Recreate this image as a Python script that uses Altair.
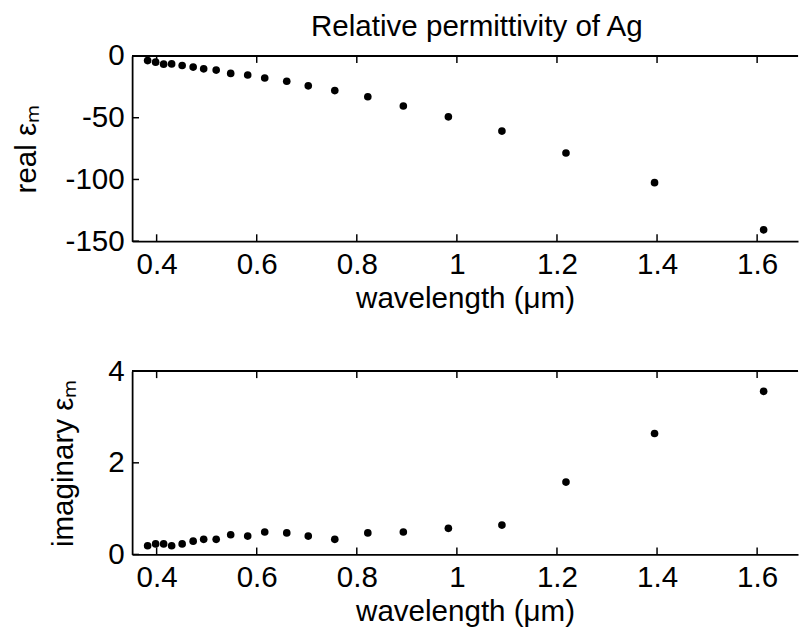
import altair as alt
import pandas as pd

# Data (wavelength in µm)
wavelength = [0.382, 0.398, 0.414, 0.430, 0.451, 0.473, 0.494, 0.519, 0.548, 0.582, 0.616,
              0.660, 0.703, 0.756, 0.822, 0.893, 0.983, 1.090, 1.218, 1.395, 1.613]
eps_real = [-3.7, -5.0, -6.6, -6.4, -7.7, -9.0, -10.4, -11.4, -14.1, -15.4, -17.8,
            -20.5, -24.2, -28.0, -33.0, -40.5, -49.3, -60.8, -78.6, -102.6, -140.8]
eps_imag = [0.19, 0.23, 0.23, 0.19, 0.23, 0.29, 0.33, 0.33, 0.43, 0.40, 0.49,
            0.47, 0.40, 0.33, 0.47, 0.49, 0.57, 0.64, 1.58, 2.64, 3.56]

x_ticks = [0.4, 0.6, 0.8, 1.0, 1.2, 1.4, 1.6]
real_ticks = [0, -50, -100, -150]
imag_ticks = [0, 2, 4]

X_DOMAIN = [0.351, 1.6817]
W = 676
FONT = "Liberation Sans"
FS = 30
TICK = 7

df = pd.DataFrame({"wl": wavelength, "re": eps_real, "im": eps_imag})
xt = pd.DataFrame({"t": x_ticks})

LABEL_EXPR = "datum.value < 0 ? '-' + format(-datum.value, '~g') : format(datum.value, '~g')"


def panel(col, ytitle, ydomain, yticks, H, title_pad):
    xscale = alt.Scale(domain=X_DOMAIN, nice=False, zero=False)
    yscale = alt.Scale(domain=ydomain, nice=False, zero=False)
    xaxis = alt.Axis(values=x_ticks, title="wavelength (μm)", labelExpr=LABEL_EXPR,
                     grid=False, ticks=False, labelPadding=9, titlePadding=4,
                     domainColor="black", domainWidth=1.8, labelFontSize=FS, titleFontSize=FS,
                     labelColor="black", titleColor="black", titleFontWeight="normal",
                     labelFont=FONT, titleFont=FONT, labelFlush=False)
    yaxis = alt.Axis(values=yticks, title=ytitle, labelExpr=LABEL_EXPR, grid=False, ticks=False,
                     labelPadding=8, titlePadding=title_pad,
                     domainColor="black", domainWidth=1.8, labelFontSize=FS, titleFontSize=FS,
                     labelColor="black", titleColor="black", titleFontWeight="normal",
                     labelFont=FONT, titleFont=FONT)
    pts = alt.Chart(df).mark_circle(size=60, color="black", opacity=1).encode(
        x=alt.X("wl:Q", scale=xscale, axis=xaxis),
        y=alt.Y(f"{col}:Q", scale=yscale, axis=yaxis),
    )
    bottom_ticks = alt.Chart(xt).mark_rule(color="black", strokeWidth=1.5).encode(
        x=alt.X("t:Q", scale=xscale), y=alt.value(H), y2=alt.value(H - TICK))
    top_ticks = alt.Chart(xt).mark_rule(color="black", strokeWidth=1.5).encode(
        x=alt.X("t:Q", scale=xscale), y=alt.value(0), y2=alt.value(TICK))
    yt = pd.DataFrame({"t": yticks})
    left_ticks = alt.Chart(yt).mark_rule(color="black", strokeWidth=1.5).encode(
        y=alt.Y("t:Q", scale=yscale), x=alt.value(0), x2=alt.value(TICK))
    top_border = alt.Chart(xt).mark_rule(color="black", strokeWidth=1.8).encode(
        x=alt.value(0), x2=alt.value(W), y=alt.value(0))
    return alt.layer(pts, bottom_ticks, top_ticks, left_ticks, top_border).properties(
        width=W, height=H)


top = panel("re", "real εₘ", [-150, 0], real_ticks, 188, 24).properties(
    title=alt.TitleParams("Relative permittivity of Ag", font=FONT, fontSize=30,
                          fontWeight="normal", color="black", anchor="middle",
                          frame="group", dx=12, offset=-1))
bottom = panel("im", "imaginary εₘ", [0, 4], imag_ticks, 186, 30)

chart = alt.vconcat(top, bottom, spacing=44).properties(
    padding={"left": 3, "top": 0, "right": 0, "bottom": 0},
    background="white",
).configure_view(stroke=None)

chart.save("out.html", embed_options={"renderer": "svg", "actions": False})
